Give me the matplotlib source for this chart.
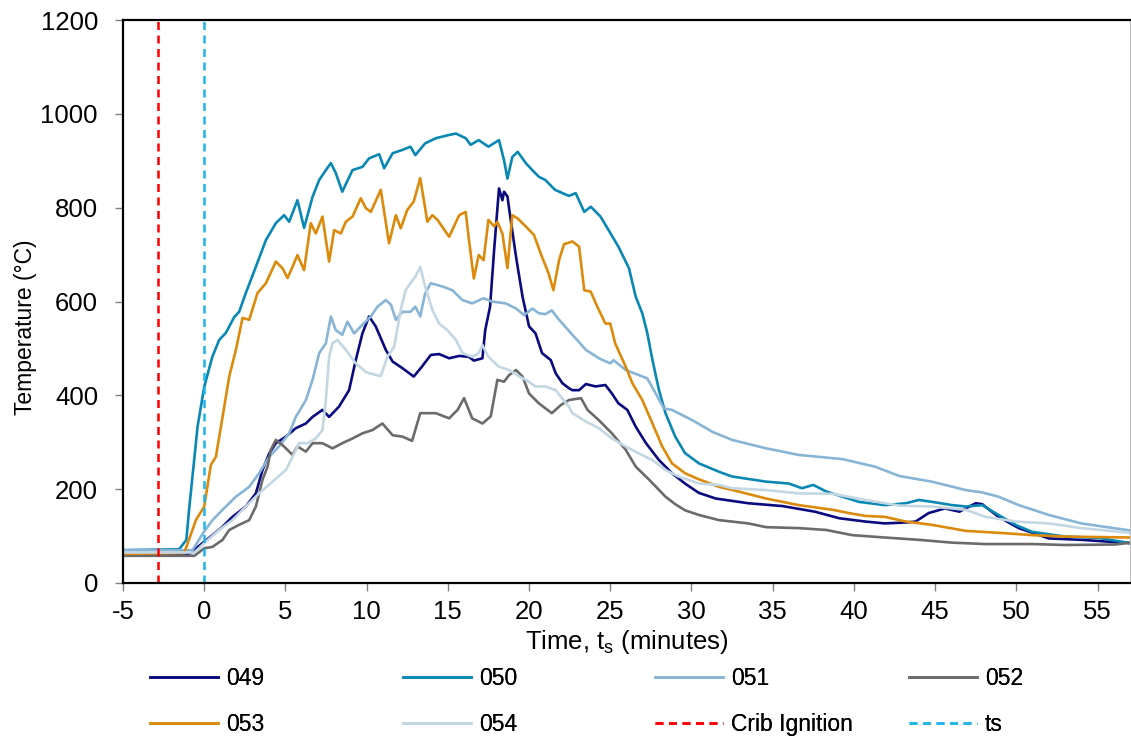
import matplotlib
matplotlib.use("Agg")
import matplotlib.pyplot as plt

plt.rcParams['font.family'] = ['Liberation Sans', 'DejaVu Sans']
plt.rcParams['mathtext.fontset'] = 'custom'
plt.rcParams['mathtext.rm'] = 'Liberation Sans'
plt.rcParams['mathtext.it'] = 'Liberation Sans'
plt.rcParams['axes.unicode_minus'] = False

# ---- test data: temperature (deg C) vs time t_s (minutes) ----
t_049 = [-5, -1.0, -0.82, -0.5, 0, 0.51, 1.13, 1.74, 2.56, 3.18, 3.59, 4.0, 4.41, 5.03, 5.64, 6.26,
         6.67, 7.28, 7.69, 8.3, 8.92, 9.33, 9.74, 10.15, 10.56, 11.18, 11.6, 12.2, 12.9, 13.4, 13.95,
         14.46, 15.08, 15.7, 16.3, 16.6, 17.13, 17.3, 17.6, 17.85, 18.15, 18.36, 18.46, 18.67, 18.87,
         19.2, 19.6, 20.0, 20.4, 20.8, 21.34, 21.64, 22.05, 22.46, 22.67, 23.08, 23.5, 24.1, 24.7,
         25.1, 25.5, 26.05, 26.57, 27.2, 28.0, 28.8, 29.6, 30.46, 31.5, 33.5, 35.6, 37.6, 39.1, 40.7,
         41.9, 43.2, 43.8, 44.6, 45.6, 46.5, 47.5, 47.9, 48.9, 50.15, 52.0, 54.0, 57.0]
T_049 = [62, 62, 64, 74, 88, 102, 120, 141, 163, 191, 241, 276, 298, 312, 330, 340,
         354, 369, 354, 376, 411, 475, 532, 568, 547, 497, 472, 458, 440, 461, 486,
         488, 479, 484, 482, 474, 479, 539, 589, 710, 841, 816, 834, 824, 774,
         695, 610, 547, 532, 490, 475, 447, 426, 415, 411, 411, 424, 419, 422,
         404, 383, 369, 333, 298, 262, 234, 212, 192, 180, 170, 164, 152, 138, 131,
         127, 129, 131, 149, 159, 152, 170, 168, 141, 117, 95, 92, 85]

t_050 = [-5, -1.54, -1.1, -0.92, -0.41, 0, 0.5, 0.92, 1.33, 1.85, 2.15, 2.56, 3.18, 3.8, 4.41,
         4.92, 5.23, 5.74, 6.15, 6.67, 7.08, 7.49, 7.8, 8.1, 8.5, 9.13, 9.74, 10.15, 10.77, 11.08,
         11.6, 12.2, 12.7, 13.0, 13.6, 14.26, 15.08, 15.5, 16.1, 16.4, 16.9, 17.5, 18.15, 18.46,
         18.67, 18.97, 19.3, 19.8, 20.2, 20.6, 21.0, 21.6, 22.46, 22.87, 23.4, 23.8, 24.4, 24.9,
         25.5, 26.15, 26.57, 26.97, 27.28, 27.6, 28.0, 28.4, 29.0, 29.6, 30.46, 31.7, 32.5, 34.6,
         36.0, 36.8, 37.5, 38.3, 39.3, 40.3, 41.9, 43.2, 44.0, 44.8, 46.05, 46.9, 47.9, 48.9,
         49.95, 50.97, 53.0, 55.1, 57.0]
T_050 = [70, 72, 92, 160, 333, 418, 482, 518, 533, 567, 578, 618, 674, 731, 767,
         784, 770, 816, 757, 823, 859, 880, 895, 874, 834, 880, 887, 905, 914, 884,
         916, 923, 930, 912, 937, 948, 955, 958, 948, 934, 944, 930, 944, 901,
         862, 908, 919, 895, 880, 866, 859, 838, 825, 831, 791, 802, 781, 752,
         717, 671, 610, 575, 533, 475, 411, 362, 312, 277, 255, 237, 227, 216,
         212, 202, 209, 195, 184, 173, 166, 170, 177, 173, 166, 163, 166, 145,
         124, 109, 99, 96, 85]

t_051 = [-5, -0.72, 0, 0.51, 1.13, 1.95, 2.77, 3.38, 4.0, 4.6, 5.23, 5.64, 6.26, 6.67, 7.08,
         7.49, 7.8, 8.1, 8.5, 8.82, 9.23, 9.64, 10.26, 10.67, 11.18, 11.5, 11.8, 12.2, 12.7, 13.0,
         13.3, 13.6, 13.95, 14.67, 15.28, 15.9, 16.5, 17.2, 17.7, 18.56, 19.2, 19.7, 20.2, 20.6,
         21.0, 21.4, 21.85, 22.67, 23.5, 24.3, 25.0, 25.2, 25.95, 26.77, 27.28, 27.8, 28.3, 28.8,
         30.05, 31.3, 32.5, 34.6, 36.6, 39.3, 41.3, 42.8, 44.8, 46.9, 47.9, 48.9, 50.15, 52.0,
         54.0, 57.0]
T_051 = [70, 70, 110, 134, 156, 184, 205, 234, 269, 291, 319, 354, 390, 433, 490,
         511, 568, 539, 529, 557, 532, 547, 568, 589, 603, 593, 561, 578, 578, 589,
         568, 617, 639, 632, 624, 603, 596, 607, 600, 596, 585, 571, 585, 575,
         573, 581, 561, 529, 497, 479, 468, 475, 454, 443, 436, 404, 372, 369,
         347, 322, 305, 287, 273, 264, 248, 228, 216, 198, 193, 184, 166, 145,
         127, 112]

t_052 = [-5, -0.6, 0, 0.51, 1.13, 1.54, 2.15, 2.77, 3.18, 3.59, 3.9, 4.1, 4.41, 4.82, 5.44,
         5.74, 6.26, 6.67, 7.28, 7.9, 8.5, 9.13, 9.74, 10.36, 10.97, 11.6, 12.2, 12.8, 13.3,
         14.26, 15.08, 15.6, 16.0, 16.5, 17.13, 17.64, 18.05, 18.46, 18.77, 19.2, 19.6, 20.0,
         20.6, 21.4, 21.95, 22.46, 23.2, 23.6, 24.3, 25.1, 25.95, 26.57, 27.4, 28.4, 29.0, 29.6,
         30.46, 31.7, 33.5, 34.6, 36.6, 38.3, 39.9, 41.9, 44.0, 46.05, 48.1, 51.0, 53.0, 56.1,
         57.0]
T_052 = [58, 58, 74, 77, 92, 113, 124, 134, 163, 220, 248, 284, 305, 294, 273,
         291, 280, 298, 298, 287, 298, 308, 319, 326, 340, 315, 312, 303, 362,
         362, 351, 369, 394, 351, 340, 355, 433, 429, 443, 454, 440, 404,
         383, 362, 379, 390, 394, 369, 347, 319, 284, 248, 220, 184, 168, 155,
         145, 134, 127, 119, 117, 113, 102, 97, 92, 86, 83, 83, 81, 82,
         86]

t_053 = [-5, -1.23, -0.51, 0, 0.41, 0.72, 1.13, 1.54, 1.95, 2.36, 2.77, 3.28, 3.8, 4.41, 4.82,
         5.13, 5.44, 5.74, 6.15, 6.56, 6.87, 7.28, 7.69, 8.0, 8.41, 8.72, 9.13, 9.64, 9.95, 10.26,
         10.87, 11.38, 11.8, 12.1, 12.5, 12.9, 13.3, 13.74, 14.05, 14.36, 15.08, 15.7, 16.1, 16.3,
         16.6, 16.9, 17.2, 17.5, 17.85, 18.05, 18.36, 18.67, 18.97, 19.3, 19.8, 20.3, 20.8, 21.2,
         21.5, 21.85, 22.15, 22.67, 23.08, 23.4, 23.8, 24.2, 24.7, 25.0, 25.3, 25.95, 26.36, 26.97,
         27.6, 28.2, 28.8, 29.6, 30.46, 31.7, 32.9, 34.6, 36.6, 38.7, 39.7, 40.7, 41.9, 43.2, 44.8,
         46.9, 48.9, 51.0, 53.0, 57.0]
T_053 = [62, 64, 134, 163, 252, 269, 354, 440, 497, 565, 561, 618, 639, 685, 671,
         650, 674, 699, 667, 767, 745, 781, 685, 752, 745, 770, 781, 820, 799, 791,
         838, 724, 784, 756, 795, 813, 863, 770, 784, 774, 738, 784, 791, 731,
         649, 699, 688, 774, 760, 770, 745, 671, 784, 777, 760, 742, 695, 660,
         624, 688, 722, 728, 717, 624, 621, 589, 553, 553, 511, 461, 426, 390,
         340, 291, 255, 234, 221, 205, 195, 180, 166, 156, 149, 143, 141, 131, 124,
         111, 107, 102, 99, 97]

t_054 = [-5, -0.6, 0, 0.92, 1.74, 2.56, 3.38, 4.2, 5.03, 5.54, 5.85, 6.36, 6.87, 7.28, 7.49,
         7.69, 7.9, 8.2, 8.72, 9.33, 9.95, 10.15, 10.87, 11.28, 11.7, 12.1, 12.4, 12.7, 13.0,
         13.3, 13.6, 14.05, 14.46, 14.97, 15.5, 15.9, 16.5, 16.9, 17.13, 17.5, 18.15, 18.77,
         19.4, 19.8, 20.4, 21.0, 21.64, 22.46, 22.67, 23.5, 24.3, 25.1, 25.95, 26.77, 27.6, 28.4,
         29.2, 30.46, 31.7, 32.5, 34.6, 36.6, 38.7, 40.7, 42.8, 44.8, 46.9, 48.1, 49.95, 52.0,
         54.0, 57.0]
T_054 = [65, 65, 85, 113, 134, 163, 191, 216, 241, 276, 298, 298, 308, 326, 390,
         482, 511, 518, 497, 468, 450, 447, 441, 482, 504, 582, 624, 639, 653,
         674, 632, 582, 553, 539, 518, 490, 482, 490, 507, 482, 461, 454,
         440, 433, 419, 419, 411, 375, 362, 344, 330, 308, 291, 276, 262, 241,
         227, 212, 209, 202, 198, 191, 190, 177, 165, 163, 156, 141, 131, 127,
         117, 107]

crib_ignition_t = -2.83
ts_t = 0.0

x_ticks = list(range(-5, 60, 5))
y_ticks = list(range(0, 1400, 200))

series = [
    ("049", t_049, T_049, "#0B0B80"),
    ("050", t_050, T_050, "#0A88B4"),
    ("051", t_051, T_051, "#88B5D5"),
    ("052", t_052, T_052, "#6B6B6B"),
    ("053", t_053, T_053, "#DB8A0C"),
    ("054", t_054, T_054, "#C3D7E3"),
]

W, H = 1131, 738
fig = plt.figure(figsize=(W / 100, H / 100), dpi=100)
ax = fig.add_axes([123 / W, 1 - 583 / H, (1130 - 123) / W, (583 - 20) / H])

handles = {}
for name, t, T, c in series:
    ln, = ax.plot(t, T, color=c, lw=1.9, solid_joinstyle='round')
    handles[name] = ln

dash = (3.2, 2.2)
h_crib = ax.axvline(crib_ignition_t, color="#FF0000", lw=1.8, dashes=dash)
h_ts = ax.axvline(ts_t, color="#1EB4EA", lw=1.8, dashes=dash)

ax.set_xlim(-5, 57)
ax.set_ylim(0, 1200)
ax.set_xticks(x_ticks)
ax.set_yticks(y_ticks)
ax.tick_params(axis='both', direction='out', color='#808080', width=1, length=6,
               labelsize=18.5, labelcolor='black')
ax.tick_params(axis='y', pad=12)
ax.tick_params(axis='x', pad=6)

for side in ['left', 'bottom', 'top']:
    ax.spines[side].set_color('black')
    ax.spines[side].set_linewidth(1.6)
ax.spines['right'].set_color('#BBBBBB')
ax.spines['right'].set_linewidth(0.8)

ax.set_xlabel('Time, t$_\\mathrm{s}$ (minutes)', fontsize=18.5)
ax.set_ylabel('Temperature (°C)', fontsize=16.5)
ax.xaxis.set_label_coords(0.5, -0.08)
ax.yaxis.set_label_coords(-0.085, 0.455)

# legend laid out as four columns of two entries below the plot
columns = [
    [(handles["049"], "049"), (handles["053"], "053")],
    [(handles["050"], "050"), (handles["054"], "054")],
    [(handles["051"], "051"), (h_crib, "Crib Ignition")],
    [(handles["052"], "052"), (h_ts, "ts")],
]
col_x = [139, 392, 644, 898]
for x0, entries in zip(col_x, columns):
    leg = fig.legend([e[0] for e in entries], [e[1] for e in entries],
                     loc='upper left', bbox_to_anchor=(x0 / W, 1 - 656 / H),
                     frameon=False, fontsize=16.5, handlelength=2.95,
                     handletextpad=0.35, labelspacing=1.0, borderpad=0)
    fig.add_artist(leg)

fig.savefig("out.png", dpi=100)
